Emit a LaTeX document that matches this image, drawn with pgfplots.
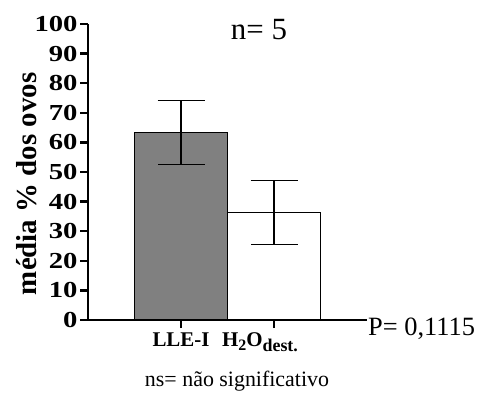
\documentclass[border=0pt]{standalone}
\usepackage{fontspec}
\setmainfont{Liberation Serif}
\usepackage{pgfplots}
\pgfplotsset{compat=1.18}
\begin{document}
\begin{tikzpicture}[x=1bp,y=1bp]
\path[use as bounding box] (0,0) rectangle (481,398);
\begin{axis}[
  at={(88bp,78bp)}, anchor=south west,
  scale only axis, width=279bp, height=296bp,
  xmin=0, xmax=3, ymin=0, ymax=100,
  axis x line=bottom, axis y line=left,
  axis line style={line width=2.8bp, -},
  xtick={1},
  xticklabels={LLE-I},
  extra x ticks={2},
  extra x tick labels={H\raisebox{-4bp}{\fontsize{16}{16}\selectfont 2}O\raisebox{-5bp}{\fontsize{18}{18}\selectfont dest.}},
  extra x tick style={xticklabel style={xshift=-14bp}},
  ytick={0,10,...,100},
  yticklabel={\scalebox{1.25}[1]{\pgfmathprintnumber[assume math mode=true]{\tick}}},
  tick align=outside,
  major tick length=8bp,
  tick style={line width=2.5bp, black},
  yticklabel style={font=\fontsize{23}{23}\selectfont\bfseries, xshift=1bp},
  xticklabel style={font=\fontsize{21}{21}\selectfont\bfseries, yshift=-1bp},
  ylabel={média \% dos ovos},
  every axis y label/.style={at={(axis description cs:-0.22,0.46)}, rotate=90, anchor=center, font=\fontsize{29}{29}\selectfont\bfseries},
  clip=false,
]
\addplot[ybar, bar width=93bp, fill=black!50, draw=black, line width=1.2bp,
  error bars/.cd, y dir=both, y explicit,
  error bar style={line width=1.2bp, black},
  error mark options={rotate=90, mark size=23.5bp, line width=1.2bp, black}]
  coordinates {(1,63.4) +- (0,10.8)};
\addplot[ybar, bar width=93bp, fill=white, draw=black, line width=1.2bp,
  error bars/.cd, y dir=both, y explicit,
  error bar style={line width=1.2bp, black},
  error mark options={rotate=90, mark size=23.5bp, line width=1.2bp, black}]
  coordinates {(2,36.4) +- (0,10.8)};
\end{axis}
\node[font=\fontsize{31}{31}\selectfont] at (259,368) {n= 5};
\node[font=\fontsize{26.5}{26.5}\selectfont, anchor=west, inner sep=0pt] at (368,69) {P= 0,1115};
\node[font=\fontsize{22}{22}\selectfont] at (237,17) {ns= não significativo};
\end{tikzpicture}
\end{document}
